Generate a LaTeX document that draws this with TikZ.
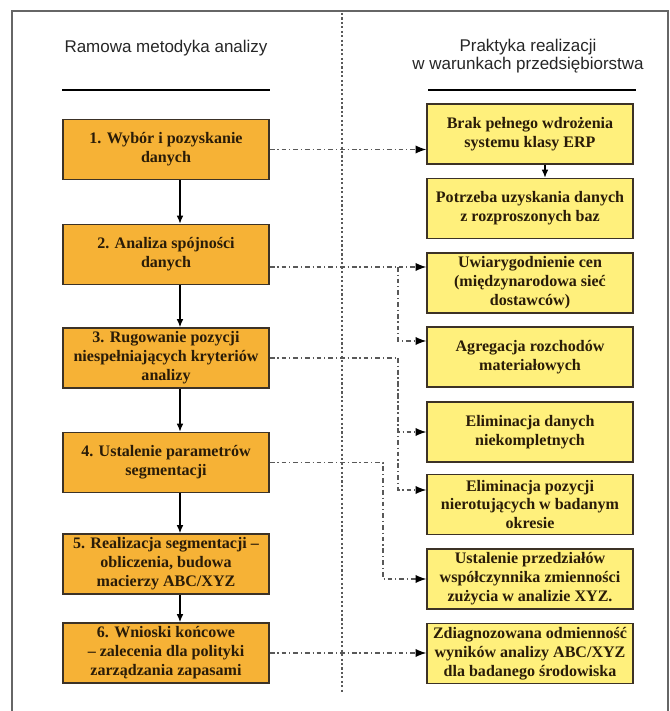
\documentclass[tikz,border=0pt]{standalone}
\usepackage{fontspec}
\setmainfont{Liberation Serif}
\setsansfont{Liberation Sans}
\usetikzlibrary{arrows.meta}
\definecolor{boxorange}{HTML}{F6B236}
\definecolor{boxyellow}{HTML}{FFF07C}
\definecolor{boxtext}{HTML}{2A1C08}
\definecolor{boxline}{HTML}{3C3226}

\begin{document}
\begin{tikzpicture}[>={Latex[length=2.4mm,width=2mm]},
  method/.style={draw=boxline,line width=1.4pt,fill=boxorange,minimum width=6.18cm,
    minimum height=1.8cm,inner sep=1pt,align=center,text=boxtext,
    font=\fontsize{13.7}{16.2}\selectfont\bfseries},
  practice/.style={method,fill=boxyellow},
  head/.style={align=center,text=black!85,font=\fontsize{14.5}{15.6}\selectfont\sffamily},
  link/.style={draw=black!65,line width=0.9pt,
    dash pattern=on 4pt off 2.5pt on 1pt off 2.5pt,-{Latex[length=3.2mm,width=2.5mm,black]}}]
  \useasboundingbox (0,0) rectangle (20.1,21.33);
  % frame and divider
  \draw[black!60,line width=1pt] (0.36,-0.5) -- (0.36,21.0) -- (20.04,21.0) -- (20.04,-0.5);
  \draw[black!65,line width=0.9pt,dash pattern=on 1.8pt off 2pt] (10.26,20.94) -- (10.26,0.54);
  % headings
  \node[head] (hmethod) at (4.98,19.89) {Ramowa metodyka analizy};
  \node[head] (hpractice) at (15.84,19.65) {Praktyka realizacji\\w warunkach przedsiębiorstwa};
  \draw[line width=1pt] (1.86,18.63) -- (8.1,18.63);
  \draw[line width=1pt] (12.84,18.63) -- (19.08,18.63);
  % left column
  \node[method] (B1) at (4.98,16.845) {1. Wybór i pozyskanie\\danych};
  \node[method] (B2) at (4.98,13.695) {2. Analiza spójności\\danych};
  \node[method] (B3) at (4.98,10.59) {3. Rugowanie pozycji\\niespełniających kryteriów\\analizy};
  \node[method] (B4) at (4.98,7.455) {4. Ustalenie parametrów\\segmentacji};
  \node[method] (B5) at (4.98,4.41) {5. Realizacja segmentacji –\\obliczenia, budowa\\macierzy ABC/XYZ};
  \node[method] (B6) at (4.98,1.74) {6. Wnioski końcowe\\– zalecenia dla polityki\\zarządzania zapasami};
  % right column
  \node[practice] (R1) at (15.9,17.31) {Brak pełnego wdrożenia\\systemu klasy ERP};
  \node[practice] (R2) at (15.9,15.075) {Potrzeba uzyskania danych\\z rozproszonych baz};
  \node[practice] (R3) at (15.9,12.84) {Uwiarygodnienie cen\\(międzynarodowa sieć\\dostawców)};
  \node[practice] (R4) at (15.9,10.62) {Agregacja rozchodów\\materiałowych};
  \node[practice] (R5) at (15.9,8.37) {Eliminacja danych\\niekompletnych};
  \node[practice] (R6) at (15.9,6.195) {Eliminacja pozycji\\nierotujących w badanym\\okresie};
  \node[practice] (R7) at (15.9,3.96) {Ustalenie przedziałów\\współczynnika zmienności\\zużycia w analizie XYZ.};
  \node[practice] (R8) at (15.9,1.725) {Zdiagnozowana odmienność\\wyników analizy ABC/XYZ\\dla badanego środowiska};
  % solid flow
  \draw[->,line width=1pt] ([xshift=4.2mm]B1.south) -- ([xshift=4.2mm]B2.north);
  \draw[->,line width=1pt] ([xshift=4.2mm]B2.south) -- ([xshift=4.2mm]B3.north);
  \draw[->,line width=1pt] ([xshift=4.2mm]B3.south) -- ([xshift=4.2mm]B4.north);
  \draw[->,line width=1pt] ([xshift=4.2mm]B4.south) -- ([xshift=4.2mm]B5.north);
  \draw[->,line width=1pt] ([xshift=4.2mm]B5.south) -- ([xshift=4.2mm]B6.north);
  \draw[->,line width=1pt] ([xshift=4.5mm]R1.south) -- ([xshift=4.5mm]R2.north);
  % dash-dot links
  \coordinate (j2) at (11.94,13.32);
  \coordinate (j3) at (11.94,10.59);
  \coordinate (j4) at (11.49,7.455);
  \draw[link] (B1.east) -- (B1.east -| R1.west);
  \draw[link] (B2.east |- j2) -- (j2 -| R3.west);
  \draw[link] (j2) |- ([yshift=4.8mm]R4.west);
  \draw[link] (B3.east) -- (j3) |- (R5.west);
  \draw[link] (j3) |- ([yshift=4.35mm]R6.west);
  \draw[link] (B4.east) -- (j4) |- (R7.west);
  \draw[link] (B6.east) -- (B6.east -| R8.west);
\end{tikzpicture}
\end{document}
